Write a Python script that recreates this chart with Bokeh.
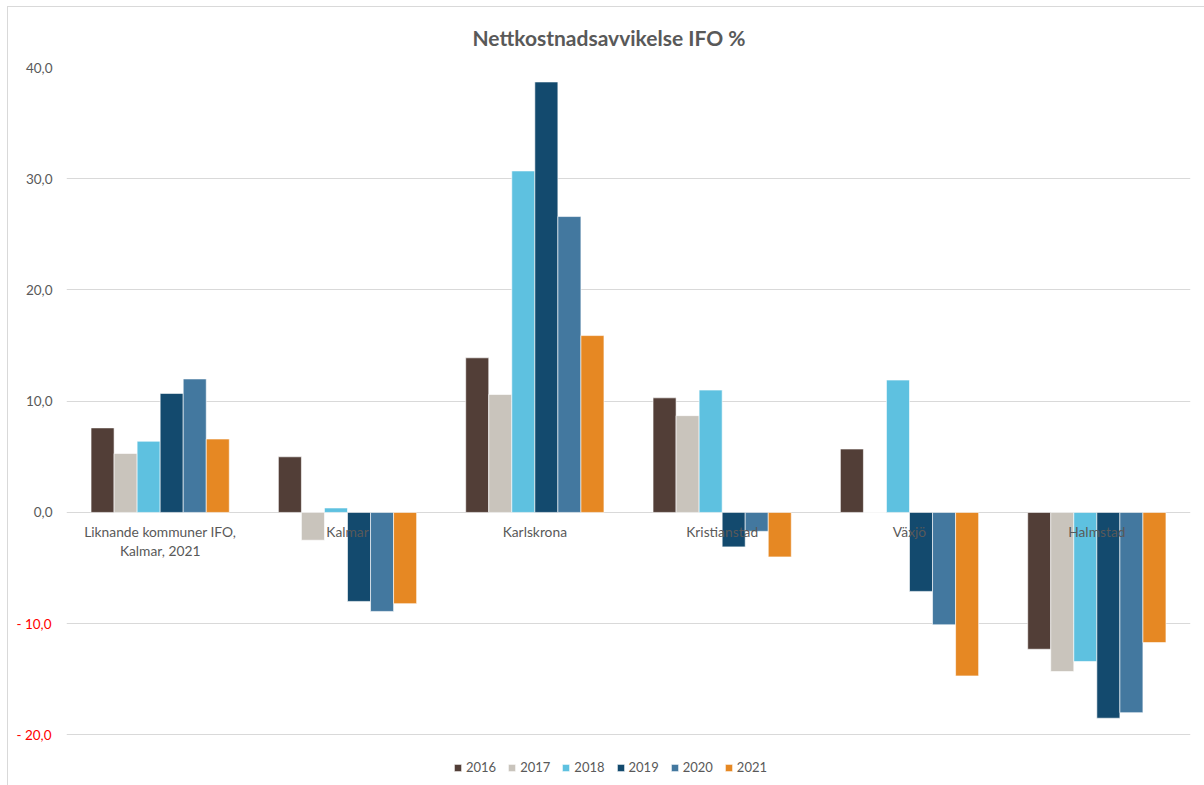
from bokeh.plotting import figure
from bokeh.models import (ColumnDataSource, FactorRange, Range1d, FixedTicker, Legend,
                          LegendItem, LinearAxis, InlineStyleSheet)
from bokeh.transform import dodge
from bokeh.core.properties import value
from bokeh.embed import file_html
from bokeh.resources import INLINE

categories = ["Liknande kommuner IFO,\nKalmar, 2021", "Kalmar", "Karlskrona",
              "Kristianstad", "Växjö", "Halmstad"]
years = ["2016", "2017", "2018", "2019", "2020", "2021"]
v2016 = [7.6, 5.0, 13.9, 10.3, 5.7, -12.3]
v2017 = [5.3, -2.5, 10.6, 8.7, 0.0, -14.3]
v2018 = [6.4, 0.4, 30.7, 11.0, 11.9, -13.4]
v2019 = [10.7, -8.0, 38.7, -3.1, -7.1, -18.5]
v2020 = [12.0, -8.9, 26.6, -1.7, -10.1, -18.0]
v2021 = [6.6, -8.2, 15.9, -4.0, -14.7, -11.7]
colors = ["#523E37", "#C9C4BC", "#5EC1E0", "#134A6E", "#43789F", "#E68823"]
y_ticks = [-20, -10, 0, 10, 20, 30, 40]
y_tick_labels = ["- 20,0", "- 10,0", "0,0", "10,0", "20,0", "30,0", "40,0"]

series = [v2016, v2017, v2018, v2019, v2020, v2021]
data = {"cat": categories, "zero": [0] * len(categories)}
for y, s in zip(years, series):
    data["y" + y] = s
source = ColumnDataSource(data)

FONT = "Lato"
GREY = "#595959"

p = figure(x_range=FactorRange(*categories, range_padding=0), y_range=Range1d(-24.55, 40),
           width=1204, height=785, output_backend="svg", toolbar_location=None,
           min_border_left=66, min_border_right=14, min_border_top=67, min_border_bottom=0)
p.title.text = "Nettkostnadsavvikelse IFO %"
p.title.align = "left"
p.title.offset = 406
p.title.text_font = FONT
p.title.text_font_size = "21px"
p.title.text_color = GREY
p.title.text_font_style = "bold"
p.title.standoff = 35

p.outline_line_color = None
p.xaxis.visible = False
p.xgrid.grid_line_color = None
p.ygrid.grid_line_color = "#D9D9D9"
p.ygrid.grid_line_width = 1
p.ygrid.ticker = FixedTicker(ticks=y_ticks)

pos_ticks = [t for t in y_ticks if t >= 0]
neg_ticks = [t for t in y_ticks if t < 0]
lab = dict(zip(y_ticks, y_tick_labels))

ax = p.yaxis[0]
ax.ticker = FixedTicker(ticks=pos_ticks)
ax.major_label_overrides = {t: lab[t] for t in pos_ticks}
ax2 = LinearAxis(ticker=FixedTicker(ticks=neg_ticks),
                 major_label_overrides={t: lab[t] for t in neg_ticks})
for a, col, so in ((ax, GREY, 14), (ax2, "#FF0000", -29)):
    a.axis_line_color = None
    a.major_tick_line_color = None
    a.minor_tick_line_color = None
    a.major_tick_out = 0
    a.major_tick_in = 0
    a.minor_tick_out = 0
    a.major_label_standoff = so
    a.major_label_text_font = FONT
    a.major_label_text_font_size = "13.5px"
    a.major_label_text_color = col
p.add_layout(ax2, "left")

w = 0.123
items = []
for i, (yr, c) in enumerate(zip(years, colors)):
    r = p.vbar(x=dodge("cat", (i - 2.5) * w, range=p.x_range), top="y" + yr, bottom=0,
               width=w, source=source, fill_color=c, line_color="white", line_width=0.6)
    items.append(LegendItem(label=yr, renderers=[r]))

p.text(x="cat", y="zero", text="cat", source=source, y_offset=11, text_align="center",
       text_baseline="top", text_font=value(FONT), text_font_size="13.8px", text_color=GREY,
       text_line_height=1.1)

legend = Legend(items=items, orientation="horizontal", location=(387, 10),
                label_text_font=FONT, label_text_font_size="13px", label_text_color=GREY,
                glyph_width=9, glyph_height=9, spacing=11, label_standoff=4,
                border_line_color=None, background_fill_alpha=0, padding=0, margin=0)
p.add_layout(legend, "center")

p.stylesheets = [InlineStyleSheet(css=""":host::after { content: ""; position: absolute;
  left: 7px; top: 6px; right: 0px; bottom: 0px; border-left: 1px solid #D9D9D9;
  border-top: 1px solid #D9D9D9; pointer-events: none; }""")]

open("out.html", "w").write(file_html(p, INLINE))
